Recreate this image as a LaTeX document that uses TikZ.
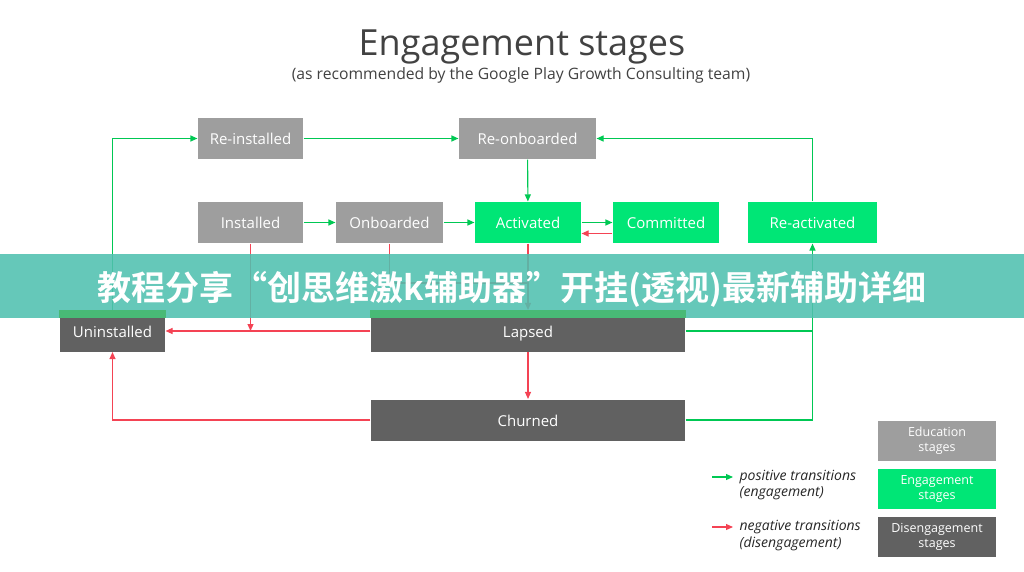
\documentclass[tikz,border=0pt]{standalone}
\usepackage{fontspec}
\setmainfont{Open Sans}
\newfontfamily\cjk{Noto Sans CJK SC Bold}
\usetikzlibrary{positioning,arrows.meta}

\definecolor{eduGray}{RGB}{158,158,158}
\definecolor{engGreen}{RGB}{0,230,118}
\definecolor{disGray}{RGB}{97,97,97}
\definecolor{posGreen}{RGB}{0,200,83}
\definecolor{negRed}{RGB}{244,67,84}
\definecolor{titleGray}{RGB}{66,66,66}
\definecolor{bannerTeal}{RGB}{80,192,175}
\definecolor{stripGreen}{RGB}{72,186,118}

\begin{document}
\begin{tikzpicture}[
		x=1pt, y=-1pt,
		>={Triangle[length=7pt,width=6pt]},
		line width=1.1pt,
		stage/.style={minimum height=41pt, inner sep=0pt, text height=12pt, text depth=0pt, text=white, font=\fontsize{15}{17}\selectfont},
		edu/.style={stage, fill=eduGray},
		eng/.style={stage, fill=engGreen},
		dis/.style={stage, fill=disGray},
		legbox/.style={minimum width=118pt, minimum height=40pt, inner sep=0pt, text=white, align=center, font=\fontsize{12.5}{15}\selectfont},
		posline/.style={draw=posGreen, ->},
		negline/.style={draw=negRed, ->},
		legtext/.style={right, align=left, text=black!85, font=\itshape\fontsize{14}{16.5}\selectfont}
		]
		
		\useasboundingbox (0,0) rectangle (1024,572);
		
		% title
		\node[text=titleGray, font=\fontsize{36}{40}\selectfont] (title) at (522,47) {Engagement stages};
		\node[text=titleGray, font=\fontsize{15.7}{18}\selectfont] (subtitle) at (521,75) {(as recommended by the Google Play Growth Consulting team)};
		
		% stages
		\node[edu, minimum width=105pt] (reinst) at (250.5,138.5) {Re-installed};
		\node[edu, minimum width=137pt] (reonb) at (527.5,138.5) {Re-onboarded};
		\node[edu, minimum width=105pt] (inst) at (250.5,222.5) {Installed};
		\node[edu, minimum width=107pt] (onb) at (389.5,222.5) {Onboarded};
		\node[eng, minimum width=106pt] (act) at (528,222.5) {Activated};
		\node[eng, minimum width=106pt] (comm) at (666,222.5) {Committed};
		\node[eng, minimum width=129pt] (react) at (812.5,222.5) {Re-activated};
		\node[dis, minimum width=105pt] (uninst) at (112.5,331) {Uninstalled};
		\node[dis, minimum width=314pt] (lapsed) at (528,331) {Lapsed};
		\node[dis, minimum width=314pt] (churned) at (528,420) {Churned};
		
		% positive transitions
		\draw[posline] (uninst.north) |- (reinst.west);
		\draw[posline] (reinst) -- (reonb);
		\draw[posline] (reonb) -- (act);
		\draw[posline] (inst) -- (onb);
		\draw[posline] (onb) -- (act);
		\draw[posline] (act) -- (comm);
		\draw[posline] (react.north) |- (reonb.east);
		\draw[posline] (churned.east) -| (react.south);
		\draw[posGreen] (lapsed.east) -- (lapsed.east -| react.south);
		
		% negative transitions
		\draw[negline] ([yshift=-11pt]comm.west) -- ([yshift=-11pt]act.east);
		\draw[negline] (inst.south) -- (inst.south |- lapsed.west);
		\draw[negline] (lapsed.west) -- (uninst.east);
		\draw[negRed] (onb.south) |- (528,283);
		\draw[negline] (act.south) -- (lapsed.north);
		\draw[negline] (lapsed) -- (churned);
		\draw[negline] (churned.west) -| (uninst.south);
		
		% legend
		\node[legbox, fill=eduGray] (legedu) at (937,441) {Education\\stages};
		\node[legbox, fill=engGreen] (legeng) at (937,489) {Engagement\\stages};
		\node[legbox, fill=disGray] (legdis) at (937,537) {Disengagement\\stages};
		\coordinate (lp) at (712,477);
		\coordinate (ln) at (712,527);
		\draw[posline] (lp) -- ++(21,0) node[legtext, inner sep=0pt, xshift=6pt, yshift=-8pt] (legpos) {positive transitions\\(engagement)};
		\draw[negline] (ln) -- ++(21,0) node[legtext, inner sep=0pt, xshift=6pt, yshift=-8.5pt] (legneg) {negative transitions\\(disengagement)};
		
		% banner
		\fill[bannerTeal, opacity=0.88] (0,254) rectangle (1024,318);
		\foreach \b in {uninst, lapsed} {
			\fill[stripGreen] (\b.north west) rectangle (\b.north east |- 0,318);
		}
		\node[text=white, font=\cjk\fontsize{34}{36}\selectfont] (banner) at (512,289) {教程分享“创思维激k辅助器”开挂(透视)最新辅助详细};
		
	\end{tikzpicture}
\end{document}
